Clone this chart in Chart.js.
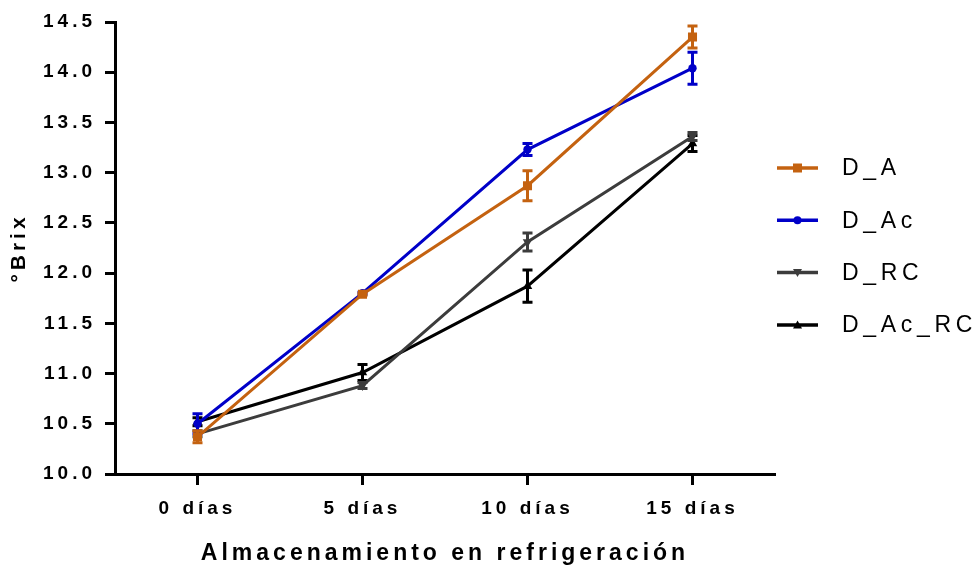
<!DOCTYPE html>
<html>
<head>
<meta charset="utf-8">
<script src="https://cdn.jsdelivr.net/npm/chart.js@4/dist/chart.umd.min.js"></script>
<style>
  html, body { margin: 0; padding: 0; background: #fff; }
  #wrap { width: 977px; height: 568px; }
</style>
</head>
<body>
<div id="wrap"><canvas id="c" width="977" height="568"></canvas></div>
<script>
// Storage days
const categories = ['0 días', '5 días', '10 días', '15 días'];

// Mean °Brix per treatment
const dA     = [10.37, 11.79, 12.87, 14.35];
const dAc    = [10.50, 11.80, 13.23, 14.04];
const dRC    = [10.40, 10.88, 12.31, 13.36];
const dAcRC  = [10.52, 11.01, 11.87, 13.29];

// Standard deviation per treatment
const errA    = [0.06, 0.01, 0.15, 0.11];
const errAc   = [0.10, 0.01, 0.06, 0.16];
const errRC   = [0.03, 0.03, 0.09, 0.04];
const errAcRC = [0.04, 0.08, 0.16, 0.08];

const seriesNames = ['D_A', 'D_Ac', 'D_RC', 'D_Ac_RC'];
const yTicks = [10.0, 10.5, 11.0, 11.5, 12.0, 12.5, 13.0, 13.5, 14.0, 14.5];

const FONT = '"Liberation Sans", Arial, sans-serif';
const SPACING = '4px';
const LEGEND_SPACING = '4.7px';

const styles = [
  { color: '#C46210', pointStyle: 'rect',     radius: 6.4, rotation: 0 },
  { color: '#0000C8', pointStyle: 'circle',   radius: 4.2, rotation: 0 },
  { color: '#3C3C3C', pointStyle: 'triangle', radius: 5.5, rotation: 180 },
  { color: '#000000', pointStyle: 'triangle', radius: 5.5, rotation: 0 }
];
const values = [dA, dAc, dRC, dAcRC];
const errors = [errA, errAc, errRC, errAcRC];

const datasets = values.map((v, i) => ({
  label: seriesNames[i],
  data: v,
  borderColor: styles[i].color,
  backgroundColor: styles[i].color,
  borderWidth: 3,
  pointStyle: styles[i].pointStyle,
  pointRadius: styles[i].radius,
  pointRotation: styles[i].rotation,
  pointBorderWidth: 0,
  pointBackgroundColor: styles[i].color,
  tension: 0,
  errors: errors[i]
}));

// Wide letter spacing for all canvas text
const spacingPlugin = {
  id: 'spacing',
  beforeUpdate(chart) { chart.ctx.letterSpacing = SPACING; },
  beforeLayout(chart) { chart.ctx.letterSpacing = SPACING; },
  beforeDraw(chart) { chart.ctx.letterSpacing = SPACING; }
};

// Error bars with caps, drawn with each dataset
const errorBarPlugin = {
  id: 'errorBars',
  afterDatasetDraw(chart, args) {
    const ds = chart.data.datasets[args.index];
    const y = chart.scales.y;
    const ctx = chart.ctx;
    ctx.save();
    ctx.strokeStyle = ds.borderColor;
    ctx.lineWidth = 3;
    ctx.lineCap = 'butt';
    args.meta.data.forEach((pt, j) => {
      const v = ds.data[j], e = ds.errors[j];
      const yt = y.getPixelForValue(v + e);
      const yb = y.getPixelForValue(v - e);
      const x = pt.x;
      ctx.beginPath();
      ctx.moveTo(x, yt); ctx.lineTo(x, yb);
      ctx.moveTo(x - 5, yt); ctx.lineTo(x + 5, yt);
      ctx.moveTo(x - 5, yb); ctx.lineTo(x + 5, yb);
      ctx.stroke();
    });
    ctx.restore();
  }
};

function drawMarker(ctx, style, x, y) {
  ctx.fillStyle = style.color;
  ctx.beginPath();
  if (style.pointStyle === 'rect') {
    const s = 4.5;
    ctx.rect(x - s, y - s, 2 * s, 2 * s);
  } else if (style.pointStyle === 'circle') {
    ctx.arc(x, y, 4, 0, Math.PI * 2);
  } else {
    const dir = style.rotation === 180 ? 1 : -1;
    ctx.moveTo(x - 4.5, y - dir * 3.5);
    ctx.lineTo(x + 4.5, y - dir * 3.5);
    ctx.lineTo(x, y + dir * 4.5);
    ctx.closePath();
  }
  ctx.fill();
}

// Legend at the right: line sample with marker, then the series name
const sideLegend = {
  id: 'sideLegend',
  afterDraw(chart) {
    const ctx = chart.ctx;
    ctx.save();
    ctx.letterSpacing = LEGEND_SPACING;
    ctx.font = '23px ' + FONT;
    ctx.textBaseline = 'middle';
    ctx.textAlign = 'left';
    seriesNames.forEach((name, i) => {
      const y = 168 + i * 52.3;
      const st = styles[i];
      ctx.strokeStyle = st.color;
      ctx.lineWidth = 3.5;
      ctx.beginPath();
      ctx.moveTo(777, y); ctx.lineTo(818, y);
      ctx.stroke();
      drawMarker(ctx, st, 797.5, y);
      ctx.fillStyle = '#000';
      ctx.fillText(name, 842, y + 1);
    });
    ctx.restore();
  }
};

new Chart(document.getElementById('c'), {
  type: 'line',
  data: { labels: categories, datasets },
  plugins: [spacingPlugin, errorBarPlugin, sideLegend],
  options: {
    responsive: false,
    animation: false,
    layout: { padding: { left: 0, right: 202, top: 22, bottom: 0 } },
    plugins: { legend: { display: false }, tooltip: { enabled: false } },
    scales: {
      x: {
        type: 'category',
        offset: true,
        afterFit(scale) { scale.height = 94; },
        grid: { display: true, drawOnChartArea: false, drawTicks: true, offset: false,
                tickLength: 11, tickWidth: 3, tickColor: '#000' },
        border: { display: true, width: 3, color: '#000' },
        ticks: { color: '#000', font: { family: FONT, size: 19, weight: 'bold' },
                 padding: 12, maxRotation: 0, autoSkip: false },
        title: { display: true, text: 'Almacenamiento en refrigeración', color: '#000',
                 font: { family: FONT, size: 23, weight: 'bold' }, padding: { top: 0, bottom: 1 } }
      },
      y: {
        min: 10, max: 14.5,
        afterFit(scale) { scale.width = 115; },
        afterBuildTicks(scale) { scale.ticks = yTicks.map(v => ({ value: v })); },
        grid: { display: true, drawOnChartArea: false, drawTicks: true,
                tickLength: 10, tickWidth: 3, tickColor: '#000' },
        border: { display: true, width: 3, color: '#000' },
        ticks: { color: '#000', font: { family: FONT, size: 19, weight: 'bold' },
                 padding: 9, callback: v => Number(v).toFixed(1) },
        title: { display: true, text: '°Brix', color: '#000',
                 font: { family: FONT, size: 21, weight: 'bold' }, padding: { top: 7, bottom: 0 } }
      }
    }
  }
});
</script>
</body>
</html>
